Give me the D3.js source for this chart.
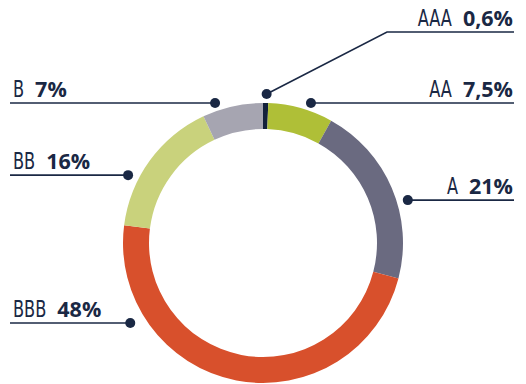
<!DOCTYPE html>
<html>
<head>
<meta charset="utf-8">
<script src="https://cdn.jsdelivr.net/npm/d3@7"></script>
<style>
  html, body { margin: 0; padding: 0; background: #ffffff; }
  svg { display: block; }
</style>
</head>
<body>
<div id="chart"></div>
<script>
// ---- data ----
const ratings = ["AAA", "AA", "A", "BBB", "BB", "B"];
const shares = [0.6, 7.5, 21, 48, 16, 7];
const shareLabels = ["0,6%", "7,5%", "21%", "48%", "16%", "7%"];
const colors = ["#13213b", "#afbf37", "#6a6a80", "#d8502c", "#c9d27c", "#a6a5b1"];

// ---- layout ----
const W = 526, H = 384;
const cx = 263, cy = 243;
const outerR = 140, innerR = 114;
const dotAngleDeg = [1.4, 18.9, 73.5, 238.9, 296.7, 341.1];
const dotRadius = [149, 148, 151, 155, 151, 148];
const side = ["right", "right", "right", "left", "left", "left"];
const rightEdge = 514, leftEdge = 10;
const textRight = 513, textLeft = 13;
const aaaElbow = { x: 387, y: 32 };
const ink = "#1a2844";

const svg = d3.select("#chart").append("svg")
  .attr("width", W).attr("height", H);

const pie = d3.pie().sort(null).value(d => d)
  .startAngle(0).endAngle(2 * Math.PI);
const arc = d3.arc().innerRadius(innerR).outerRadius(outerR);

const g = svg.append("g").attr("transform", `translate(${cx},${cy})`);
g.selectAll("path.slice")
  .data(pie(shares))
  .join("path")
  .attr("class", "slice")
  .attr("d", arc)
  .attr("fill", (d, i) => colors[i]);

// leaders + labels
ratings.forEach((r, i) => {
  const a = dotAngleDeg[i] * Math.PI / 180;
  const dx = cx + dotRadius[i] * Math.sin(a);
  const dy = cy - dotRadius[i] * Math.cos(a);
  let pts;
  let lineY;
  if (i === 0) {
    lineY = aaaElbow.y;
    pts = [[dx, dy], [aaaElbow.x, aaaElbow.y], [rightEdge, aaaElbow.y]];
  } else {
    lineY = dy;
    pts = [[dx, dy], [side[i] === "right" ? rightEdge : leftEdge, dy]];
  }
  svg.append("path")
    .attr("d", d3.line()(pts))
    .attr("fill", "none")
    .attr("stroke", ink)
    .attr("stroke-width", 1.6);
  svg.append("circle")
    .attr("cx", dx).attr("cy", dy).attr("r", 5)
    .attr("fill", ink);

  const baseY = lineY - 6;
  const gap = 11;
  const pct = svg.append("text")
    .attr("y", baseY)
    .attr("font-family", "'Open Sans', sans-serif")
    .attr("font-weight", 700)
    .attr("font-size", 21.5)
    .attr("fill", ink)
    .text(shareLabels[i]);
  const rat = svg.append("text")
    .attr("font-family", "'Liberation Sans Narrow', 'DejaVu Sans Condensed', sans-serif")
    .attr("font-size", 22.5)
    .attr("fill", ink)
    .text(r);
  const sx = 0.8;
  if (side[i] === "right") {
    pct.attr("x", textRight).attr("text-anchor", "end");
    const pw = pct.node().getComputedTextLength();
    const rx = textRight - pw - gap;
    rat.attr("text-anchor", "end")
      .attr("transform", `translate(${rx},${baseY}) scale(${sx},1)`);
  } else {
    rat.attr("text-anchor", "start")
      .attr("transform", `translate(${textLeft},${baseY}) scale(${sx},1)`);
    const rw = rat.node().getComputedTextLength() * sx;
    pct.attr("x", textLeft + rw + gap).attr("text-anchor", "start");
  }
});
</script>
</body>
</html>
